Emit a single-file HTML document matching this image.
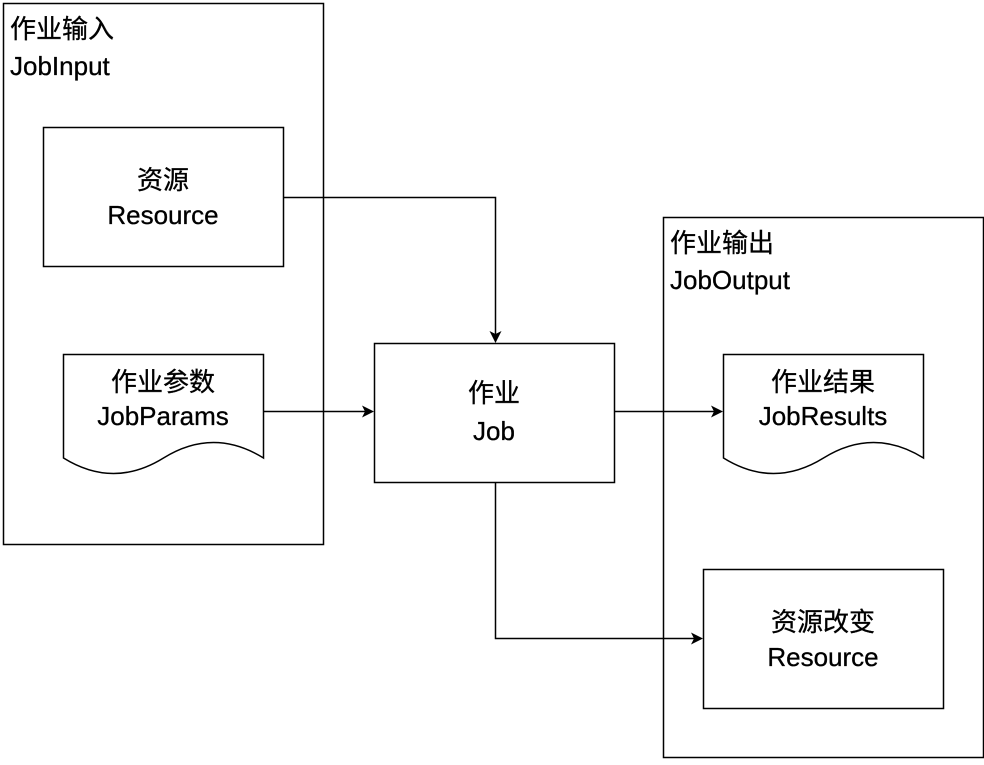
<!DOCTYPE html>
<html><head><meta charset="utf-8"><style>
html,body{margin:0;padding:0;background:#fff;}
text{font-family:"Liberation Sans","Noto Sans CJK SC",sans-serif;font-size:26px;fill:#000;stroke:#000;stroke-width:0.3;}
</style></head><body>
<svg width="984" height="760" viewBox="0 0 984 760" xmlns="http://www.w3.org/2000/svg">
<defs><marker id="a" markerWidth="12" markerHeight="12" refX="10" refY="6" orient="auto" markerUnits="userSpaceOnUse"><path d="M0,0 L12,6 L0,12 L3,6 Z" fill="#000"/></marker></defs>
<g fill="#fff" stroke="#000" stroke-width="1.5">
<rect x="3.5" y="3.5" width="320" height="541"/>
<rect x="663.5" y="217.5" width="320" height="540"/>
<rect x="43.5" y="127.5" width="240" height="139"/>
<rect x="374.5" y="343.5" width="240" height="139"/>
<rect x="703.5" y="569.5" width="240" height="139"/>
<path d="M63.5 354.5 H263.5 V458 Q213.5 427 163.5 458 T63.5 458 Z"/>
<path d="M723.5 354.5 H923.5 V458 Q873.5 427 823.5 458 T723.5 458 Z"/>
</g>
<g fill="none" stroke="#000" stroke-width="1.5">
<path d="M283.5 197.5 H495.5 V341" marker-end="url(#a)"/>
<path d="M263.5 411.5 H372" marker-end="url(#a)"/>
<path d="M614.5 411.5 H721" marker-end="url(#a)"/>
<path d="M495.5 482.5 V638.5 H701" marker-end="url(#a)"/>
</g>
<text x="10" y="38">作业输入</text>
<text x="10" y="75">JobInput</text>
<text x="670" y="252">作业输出</text>
<text x="670" y="289">JobOutput</text>
<g text-anchor="middle">
<text x="163" y="189">资源</text>
<text x="163" y="224">Resource</text>
<text x="163" y="391">作业参数</text>
<text x="163" y="425">JobParams</text>
<text x="494" y="402">作业</text>
<text x="494" y="440">Job</text>
<text x="823" y="391">作业结果</text>
<text x="823" y="425">JobResults</text>
<text x="823" y="631">资源改变</text>
<text x="823" y="666">Resource</text>
</g>
</svg>
</body></html>
